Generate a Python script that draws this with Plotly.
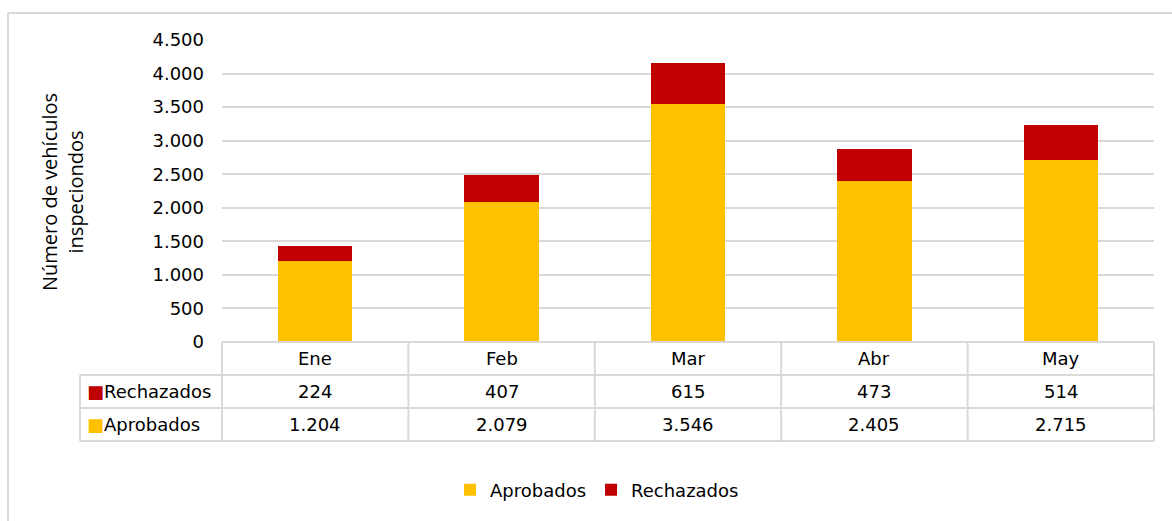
import plotly.graph_objects as go

months = ["Ene", "Feb", "Mar", "Abr", "May"]
aprobados = [1204, 2079, 3546, 2405, 2715]
rechazados = [224, 407, 615, 473, 514]
y_tick_vals = list(range(0, 5000, 500))

YELLOW = "#FFC000"
RED = "#C00000"
LINE = "#D9D9D9"
FONT = "DejaVu Sans"
FS = 18


def fmt(v):
    return f"{v:,}".replace(",", ".")


W, H = 1172, 521
L, R, T, B = 222, 18, 40, 179
plot_w = W - L - R
plot_h = H - T - B
row = 33 / plot_h


def px_x(p):
    return (p - L) / plot_w


def px_y(p):
    return (H - B - p) / plot_h


fig = go.Figure()
fig.add_bar(x=months, y=aprobados, name="Aprobados", marker_color=YELLOW,
            marker_line_width=0, width=0.4)
fig.add_bar(x=months, y=rechazados, name="Rechazados", marker_color=RED,
            marker_line_width=0, width=0.4)

shapes = []
line = dict(color=LINE, width=2)
left_x = px_x(80)
# horizontal table lines
shapes.append(dict(type="line", xref="paper", yref="paper", x0=0, x1=1, y0=0, y1=0, line=line))
for k in (1, 2, 3):
    shapes.append(dict(type="line", xref="paper", yref="paper", x0=left_x, x1=1,
                       y0=-k * row, y1=-k * row, line=line))
# vertical table lines
shapes.append(dict(type="line", xref="paper", yref="paper", x0=left_x, x1=left_x,
                   y0=-row, y1=-3 * row, line=line))
shapes.append(dict(type="line", xref="paper", yref="paper", x0=0, x1=0,
                   y0=0, y1=-3 * row, line=line))
shapes.append(dict(type="line", xref="paper", yref="paper", x0=1, x1=1,
                   y0=0, y1=-3 * row, line=line))
for i in range(len(months) - 1):
    shapes.append(dict(type="line", xref="x", yref="paper", x0=i + 0.5, x1=i + 0.5,
                       y0=0, y1=-3 * row, line=line))
# outer chart border
shapes.append(dict(type="line", xref="paper", yref="paper", x0=px_x(8), x1=px_x(1180),
                   y0=px_y(13), y1=px_y(13), line=line))
shapes.append(dict(type="line", xref="paper", yref="paper", x0=px_x(8), x1=px_x(8),
                   y0=px_y(13), y1=px_y(530), line=line))

ann = []
tf = dict(family=FONT, size=FS, color="#000000")
for i, m in enumerate(months):
    ann.append(dict(x=m, xref="x", y=-0.5 * row, yref="paper", text=m, showarrow=False,
                    font=tf, xanchor="center", yanchor="middle"))
    ann.append(dict(x=m, xref="x", y=-1.5 * row, yref="paper", text=fmt(rechazados[i]),
                    showarrow=False, font=tf, xanchor="center", yanchor="middle"))
    ann.append(dict(x=m, xref="x", y=-2.5 * row, yref="paper", text=fmt(aprobados[i]),
                    showarrow=False, font=tf, xanchor="center", yanchor="middle"))
ann.append(dict(x=px_x(85), xref="paper", y=-1.5 * row, yref="paper",
                text=f'<span style="color:{RED}">■</span>Rechazados', showarrow=False,
                font=tf, xanchor="left", yanchor="middle"))
ann.append(dict(x=px_x(85), xref="paper", y=-2.5 * row, yref="paper",
                text=f'<span style="color:{YELLOW}">■</span>Aprobados', showarrow=False,
                font=tf, xanchor="left", yanchor="middle"))
ann.append(dict(x=px_x(62), xref="paper", y=px_y(192), yref="paper",
                text="Número de vehículos<br>inspeciondos", showarrow=False,
                textangle=-90, font=dict(family="Open Sans", size=20, color="#000000"),
                xanchor="center", yanchor="middle"))

fig.update_layout(
    width=W, height=H,
    margin=dict(l=L, r=R, t=T, b=B, autoexpand=False),
    paper_bgcolor="white", plot_bgcolor="white",
    barmode="stack",
    separators=",.",
    font=dict(family=FONT, size=FS, color="#000000"),
    xaxis=dict(range=[-0.5, len(months) - 0.5], showticklabels=False, showgrid=False,
               zeroline=False, showline=False, fixedrange=True),
    yaxis=dict(range=[0, 4500], tickvals=y_tick_vals, tickformat=",d",
               showgrid=True, gridcolor=LINE, gridwidth=2, zeroline=False,
               showline=False, ticks="", ticklabelstandoff=17,
               tickfont=dict(family=FONT, size=FS, color="#000000")),
    legend=dict(orientation="h", x=px_x(597), xanchor="center", y=px_y(490),
                yanchor="middle", font=dict(family=FONT, size=FS, color="#000000"),
                traceorder="normal", itemclick=False),
    shapes=shapes,
    annotations=ann,
    showlegend=True,
)

fig.write_html("out.html", post_script="document.body.style.margin='0';",
               config={"displayModeBar": False})
